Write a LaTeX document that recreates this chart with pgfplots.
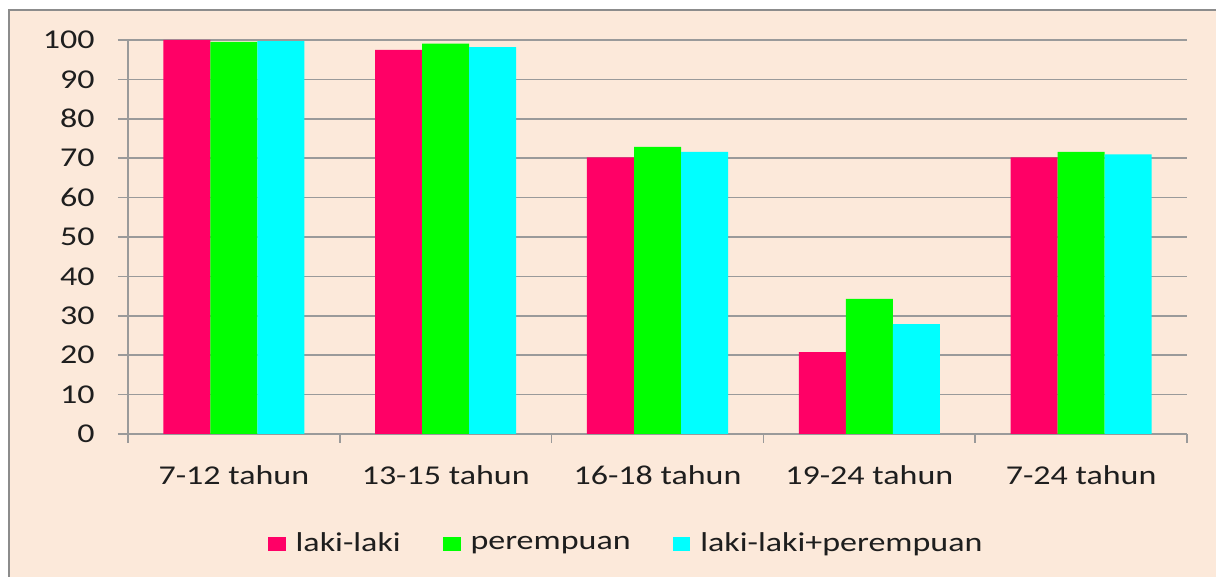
\documentclass[border=0pt]{standalone}
\usepackage{fontspec}
\setmainfont{Carlito}[FakeStretch=1.25]
\usepackage{pgfplots}
\pgfplotsset{compat=1.18}
\definecolor{bg}{HTML}{FCE9DA}
\definecolor{gridc}{HTML}{9A9A9A}
\definecolor{framec}{HTML}{8C8C8C}
\definecolor{pinkc}{HTML}{FF0066}
\definecolor{greenc}{HTML}{00FF00}
\definecolor{cyanc}{HTML}{00FFFF}
\definecolor{txt}{HTML}{1E1E1E}
\begin{document}
\begin{tikzpicture}
\path[use as bounding box, fill=white] (0,0) rectangle (608pt,288.5pt);
\fill[bg] (4.5pt,0) rectangle (608pt,283.5pt);
\draw[framec, line width=1.2pt] (4.5pt,0) -- (4.5pt,283.5pt) -- (608pt,283.5pt);
\begin{axis}[
  at={(64pt,71.5pt)}, anchor=south west,
  scale only axis, width=529.5pt, height=197pt,
  ybar=0pt, bar width=23.5pt,
  xmin=-0.5, xmax=4.5, ymin=0, ymax=100,
  ytick={0,10,...,100},
  xtick={0,1,2,3,4},
  xticklabels={7-12 tahun,13-15 tahun,16-18 tahun,19-24 tahun,7-24 tahun},
  minor xtick={-0.5,0.5,1.5,2.5,3.5,4.5},
  axis x line*=bottom, axis y line*=left,
  axis line style={gridc, line width=0.75pt},
  ymajorgrids, grid style={gridc, line width=0.75pt},
  tick align=outside,
  major x tick style={draw=none},
  major y tick style={gridc, line width=0.75pt},
  minor x tick style={gridc, line width=0.75pt},
  major tick length=5pt, minor tick length=4.5pt,
  /pgf/number format/assume math mode=true,
  ticklabel style={font=\fontsize{13.6pt}{15pt}\selectfont, text=txt},
  yticklabel style={anchor=east, inner sep=0pt, xshift=-11.5pt},
  xticklabel style={anchor=north, inner sep=0pt, yshift=-10.5pt},
  legend style={at={(0.1322,0)}, anchor=west, yshift=-55pt, draw=none, fill=none,
    inner sep=0pt, outer sep=0pt,
    font=\fontsize{13.6pt}{15pt}\selectfont, text=txt,
    nodes={inner sep=0pt},
    /tikz/every odd column/.append style={column sep=5pt},
    /tikz/every even column/.append style={column sep=21pt}},
  legend columns=3,
  legend image code/.code={\fill[#1] (0pt,-3.3pt) rectangle (8.85pt,3.35pt);},
]
\addplot[fill=pinkc, draw=none] coordinates {(0,100) (1,97.5) (2,70.2) (3,20.8) (4,70.2)};
\addplot[fill=greenc, draw=none] coordinates {(0,99.5) (1,99.1) (2,72.9) (3,34.3) (4,71.6)};
\addplot[fill=cyanc, draw=none] coordinates {(0,99.7) (1,98.2) (2,71.6) (3,27.9) (4,71.0)};
\legend{laki-laki, perempuan, laki-laki+perempuan}
\end{axis}
\end{tikzpicture}
\end{document}
